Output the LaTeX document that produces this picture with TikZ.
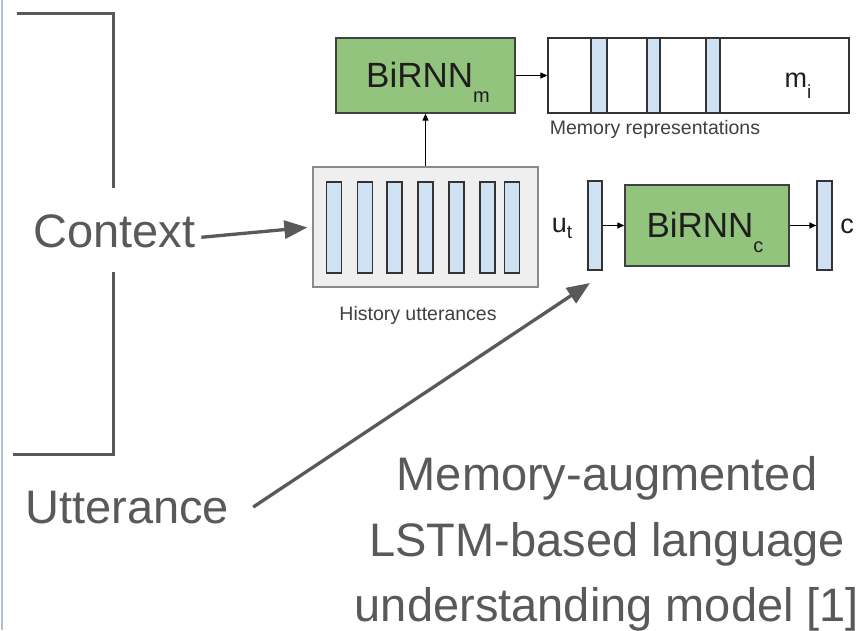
\documentclass[tikz,border=0pt]{standalone}
\usepackage{fontspec}
\setmainfont{Liberation Sans}
\usetikzlibrary{arrows.meta}

\definecolor{slidegray}{HTML}{595959}
\definecolor{boxgreen}{HTML}{93C47D}
\definecolor{barblue}{HTML}{CFE2F3}
\definecolor{panelgray}{HTML}{EFEFEF}
\definecolor{paneledge}{HTML}{8A8A8A}
\definecolor{edgegray}{HTML}{B3BFCF}
\definecolor{inktext}{HTML}{1E1E1E}

% font size in pt (1pt = 1px here)
\newcommand{\fsz}[1]{\fontsize{#1}{#1}\selectfont}
% lowered subscript: text, drop, size
\newcommand{\lowsub}[3]{\raisebox{-#2pt}{\fsz{#3}#1}}

\tikzset{
  greenbox/.style={draw=black!75, fill=boxgreen, line width=1.3pt, inner sep=0pt},
  vecbar/.style={draw=black!80, fill=barblue, line width=1.2pt, inner sep=0pt},
  panel/.style={draw=paneledge, fill=panelgray, line width=1.3pt, inner sep=0pt},
  membox/.style={draw=black!80, fill=white, line width=1.3pt, inner sep=0pt},
  thinarrow/.style={draw=black, line width=1.2pt, -{Triangle[length=7pt,width=6pt]}},
  bigarrow/.style={draw=slidegray, line width=3.3pt, -{Triangle[length=23pt,width=18pt]}},
  bracket/.style={draw=slidegray, line width=3pt},
  slidetext/.style={text=slidegray, inner sep=0pt, font=\fsz{47}},
  boxtext/.style={text=inktext, inner sep=0pt, font=\fsz{35}},
  smalltext/.style={text=inktext!85, inner sep=0pt, font=\fsz{19.5}},
  symtext/.style={text=inktext, inner sep=0pt, font=\fsz{27}},
}

\begin{document}
\begin{tikzpicture}[x=1pt, y=-1pt]
\useasboundingbox (0,0) rectangle (865,630);
\fill[white] (0,0) rectangle (865,630);

% thin ruler line along the left edge
\draw[edgegray, line width=1.5pt] (2,0) -- (2,630);

% bracket spanning the context
\draw[bracket] (17,13) -| (113,188);
\draw[bracket] (113,272) |- (13,454);

% left-hand labels
\node[slidetext, anchor=base west] (context) at (33,247) {Context};
\node[slidetext, anchor=base west] (utt) at (25,523) {Utterance};

% caption
\node[slidetext, anchor=base] (cap1) at (607,490) {Memory-augmented};
\node[slidetext, anchor=base] (cap2) at (607,556) {LSTM-based language};
\node[slidetext, anchor=base] (cap3) at (607,621) {understanding model [1]};

% history utterances panel
\node[panel, minimum width=225pt, minimum height=120pt] (hist) at (425.5,227) {};
\foreach \x/\i in {334/1, 365/2, 394.5/3, 425.5/4, 456.5/5, 487.5/6, 512/7}
  \node[vecbar, minimum width=15pt, minimum height=91pt] (h\i) at (\x,227.5) {};
\node[smalltext, anchor=base] (histlbl) at (418,320) {History utterances};

% memory encoder
\node[greenbox, minimum width=179pt, minimum height=75pt] (birnnm) at (425.5,75.5) {};
\node[boxtext, anchor=base] (birnnmtxt) at (428,87) {BiRNN\lowsub{m}{15}{20}};

% memory representations
\node[membox, minimum width=301pt, minimum height=75pt] (mem) at (698.5,75.5) {};
\foreach \x/\w/\i in {599/16/1, 653.5/13/2, 713/14/3}
  \node[vecbar, minimum width=\w pt, minimum height=75pt] (m\i) at (\x,75.5) {};
\node[symtext, anchor=base] (mitxt) at (798,87) {m\lowsub{i}{11}{19}};
\node[smalltext, anchor=base] (memlbl) at (655,134) {Memory representations};

% current utterance, context encoder and output
\node[vecbar, minimum width=14pt, minimum height=89pt] (ut) at (595,225.5) {};
\node[symtext, anchor=base] (uttxt) at (562,232) {u\lowsub{t}{6}{19}};
\node[greenbox, minimum width=164pt, minimum height=81pt] (birnnc) at (707,225.5) {};
\node[boxtext, anchor=base] (birnnctxt) at (705,237) {BiRNN\lowsub{c}{15}{20}};
\node[vecbar, minimum width=15pt, minimum height=89pt] (cvec) at (824.5,225.5) {};
\node[symtext, anchor=base] (ctxt) at (847,233) {c};

% connectors inside the model
\draw[thinarrow] (hist.north) -- (birnnm.south);
\draw[thinarrow] (birnnm.east) -- (mem.west);
\draw[thinarrow] (ut.east) -- (birnnc.west);
\draw[thinarrow] (birnnc.east) -- (cvec.west);

% pointers from the labels
\coordinate (utttail) at ([xshift=24pt]utt.east);
\coordinate (uttip) at (590,283);
\draw[bigarrow, shorten <=6pt, shorten >=5pt] ([yshift=-7pt]context.east) -- (hist.west);
\draw[bigarrow] (utttail) -- (uttip);
\end{tikzpicture}
\end{document}
